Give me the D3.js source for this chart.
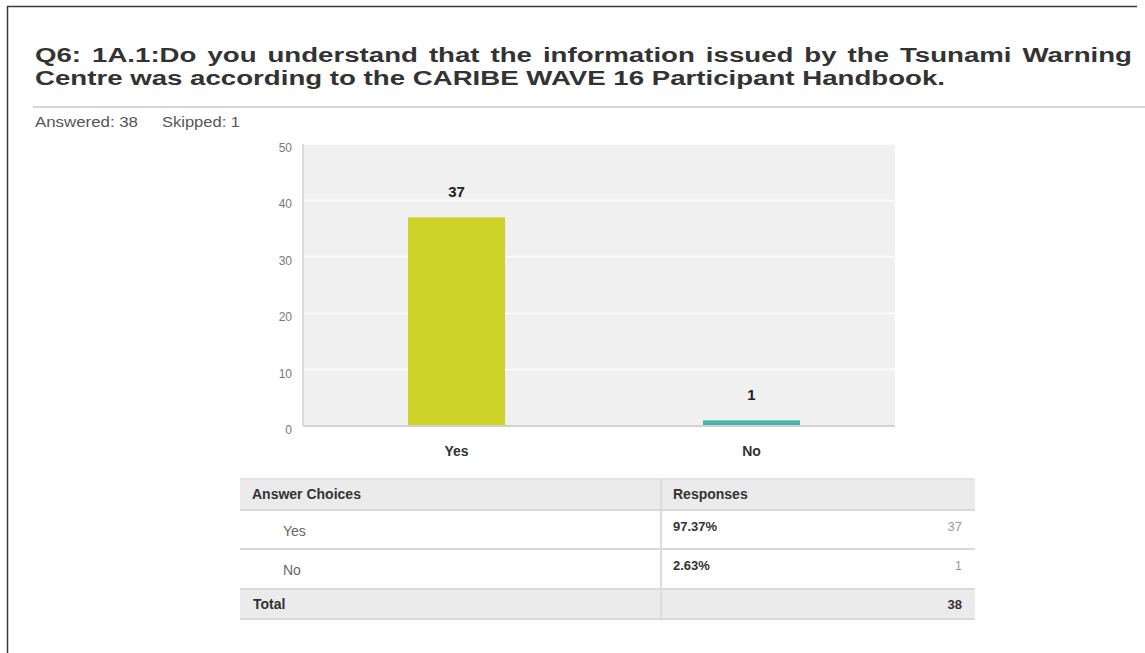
<!DOCTYPE html>
<html>
<head>
<meta charset="utf-8">
<script src="https://cdn.jsdelivr.net/npm/d3@7"></script>
<style>
  html, body { margin: 0; padding: 0; background: #fff; }
  svg { display: block; font-family: "Liberation Sans", Arial, sans-serif; }
</style>
</head>
<body>
<svg id="chart" width="1145" height="653"></svg>
<script>
// ---------- data ----------
const titleLines = [
  "Q6: 1A.1:Do you understand that the information issued by the Tsunami Warning",
  "Centre was according to the CARIBE WAVE 16 Participant Handbook."
];
const answeredCount = 38;
const skippedCount = 1;
const categories = ["Yes", "No"];
const counts = [37, 1];
const percents = ["97.37%", "2.63%"];
const yTicks = [0, 10, 20, 30, 40, 50];
const totalResponses = 38;
const tableHeaders = ["Answer Choices", "Responses"];
const barColors = ["#cdd229", "#45b6a8"];

// ---------- setup ----------
const svg = d3.select("#chart");
const W = 1145, H = 653;

// outer frame (left + top)
svg.append("path")
  .attr("d", `M7.5,${H} V6.5 H1137`)
  .attr("fill", "none").attr("stroke", "#3a3a3a").attr("stroke-width", 1.5);

// ---------- title ----------
const titleX = 35, titleRight = 1132, line2Right = 945;
const tg = svg.append("g").attr("fill", "#333").attr("font-weight", "bold").attr("font-size", 19.5);
// line 2 (stretch to measured width)
const l2 = tg.append("text").attr("x", titleX).attr("y", 84.5).text(titleLines[1]);
const nat2 = l2.node().getComputedTextLength();
const sx = (line2Right - titleX) / nat2;
l2.attr("textLength", line2Right - titleX).attr("lengthAdjust", "spacingAndGlyphs");
// line 1 justified word by word
const words = titleLines[0].split(" ");
const wordEls = words.map(w => tg.append("text").attr("y", 62).text(w));
const widths = wordEls.map(e => e.node().getComputedTextLength() * sx);
const gap = ((titleRight - titleX) - d3.sum(widths)) / (words.length - 1);
let cx = titleX;
wordEls.forEach((e, i) => {
  e.attr("x", cx).attr("textLength", widths[i]).attr("lengthAdjust", "spacingAndGlyphs");
  cx += widths[i] + gap;
});

// rule under title
svg.append("line").attr("x1", 33).attr("x2", W).attr("y1", 107).attr("y2", 107)
  .attr("stroke", "#d6d6d6").attr("stroke-width", 2);

// answered / skipped
const meta = svg.append("g").attr("fill", "#555").attr("font-size", 15);
meta.append("text").attr("x", 35).attr("y", 127).text(`Answered: ${answeredCount}`)
  .attr("textLength", 103).attr("lengthAdjust", "spacingAndGlyphs");
meta.append("text").attr("x", 162).attr("y", 127).text(`Skipped: ${skippedCount}`)
  .attr("textLength", 78).attr("lengthAdjust", "spacingAndGlyphs");

// ---------- chart ----------
const x = d3.scaleBand().domain(categories).range([303, 895])
  .paddingInner(0.671).paddingOuter(0.339).align(0.525);
const y = d3.scaleLinear().domain([0, 50]).range([426, 144]);

const plot = svg.append("g");
plot.append("rect")
  .attr("x", x.range()[0]).attr("y", y(50))
  .attr("width", x.range()[1] - x.range()[0]).attr("height", y(0) - y(50))
  .attr("fill", "#f0f0f0");

// gridlines
plot.selectAll("line.grid").data(yTicks.filter(d => d > 0)).join("line")
  .attr("class", "grid")
  .attr("x1", x.range()[0]).attr("x2", x.range()[1])
  .attr("y1", d => y(d)).attr("y2", d => y(d))
  .attr("stroke", "#fbfbfb").attr("stroke-width", 2);

// left and bottom lines
plot.append("line").attr("x1", x.range()[0]).attr("x2", x.range()[0])
  .attr("y1", y(50)).attr("y2", y(0)).attr("stroke", "#dcdcdc").attr("stroke-width", 2);
plot.append("line").attr("x1", x.range()[0]).attr("x2", x.range()[1])
  .attr("y1", y(0)).attr("y2", y(0)).attr("stroke", "#d2d2d2").attr("stroke-width", 2);

// y axis labels
const yAxis = svg.append("g").attr("transform", `translate(${x.range()[0]},0)`)
  .call(d3.axisLeft(y).tickValues(yTicks).tickSize(0).tickPadding(11));
yAxis.select(".domain").remove();
yAxis.selectAll("text").attr("fill", "#777").attr("font-size", 12)
  .attr("font-family", "Liberation Sans, Arial, sans-serif").attr("dy", "0.62em");

// bars
const data = categories.map((c, i) => ({ c, v: counts[i], color: barColors[i] }));
plot.selectAll("rect.bar").data(data).join("rect")
  .attr("class", "bar")
  .attr("x", d => x(d.c)).attr("width", x.bandwidth())
  .attr("y", d => y(d.v)).attr("height", d => y(0) - y(d.v) - 1)
  .attr("fill", d => d.color);

// value labels
plot.selectAll("text.val").data(data).join("text")
  .attr("class", "val")
  .attr("x", d => x(d.c) + x.bandwidth() / 2)
  .attr("y", d => y(d.v) - 20)
  .attr("text-anchor", "middle")
  .attr("font-size", 15).attr("font-weight", "bold").attr("fill", "#222")
  .text(d => d.v);

// x axis labels
const xAxis = svg.append("g").attr("transform", `translate(0,${y(0)})`)
  .call(d3.axisBottom(x).tickSize(0).tickPadding(20));
xAxis.select(".domain").remove();
xAxis.selectAll("text").attr("fill", "#333").attr("font-size", 14).attr("font-weight", "bold")
  .attr("font-family", "Liberation Sans, Arial, sans-serif").attr("dy", "0.71em");

// ---------- table ----------
const tL = 240, tM = 661, tR = 975;
const rowTops = [479, 510, 549, 589, 619];
const tbl = svg.append("g");
// header & total backgrounds
tbl.append("rect").attr("x", tL).attr("y", rowTops[0]).attr("width", tR - tL)
  .attr("height", rowTops[1] - rowTops[0]).attr("fill", "#ebebeb");
tbl.append("rect").attr("x", tL).attr("y", rowTops[3]).attr("width", tR - tL)
  .attr("height", rowTops[4] - rowTops[3]).attr("fill", "#ebebeb");
// horizontal separators
tbl.selectAll("line.sep").data(rowTops).join("line")
  .attr("class", "sep")
  .attr("x1", tL).attr("x2", tR).attr("y1", d => d).attr("y2", d => d)
  .attr("stroke", (d, i) => i === 0 ? "#e2e2e2" : "#d9d9d9").attr("stroke-width", 2);
// column divider
tbl.append("line").attr("x1", tM).attr("x2", tM).attr("y1", rowTops[0]).attr("y2", rowTops[4])
  .attr("stroke", "#dcdcdc").attr("stroke-width", 2);

// header text
tbl.append("text").attr("x", 252).attr("y", 499).attr("font-size", 14).attr("font-weight", "bold")
  .attr("fill", "#333").text(tableHeaders[0]);
tbl.append("text").attr("x", 673).attr("y", 499).attr("font-size", 14).attr("font-weight", "bold")
  .attr("fill", "#333").text(tableHeaders[1]);

// body rows
const rowBase = [536, 575];
const pctBase = [531, 570];
categories.forEach((c, i) => {
  tbl.append("text").attr("x", 283).attr("y", rowBase[i]).attr("font-size", 14)
    .attr("fill", "#666").text(c);
  tbl.append("text").attr("x", 673).attr("y", pctBase[i]).attr("font-size", 13)
    .attr("font-weight", "bold").attr("fill", "#333").text(percents[i]);
  tbl.append("text").attr("x", 962).attr("y", pctBase[i]).attr("font-size", 13)
    .attr("text-anchor", "end").attr("fill", "#999").text(counts[i]);
});

// total row
tbl.append("text").attr("x", 253).attr("y", 609).attr("font-size", 14).attr("font-weight", "bold")
  .attr("fill", "#333").text("Total");
tbl.append("text").attr("x", 962).attr("y", 609).attr("font-size", 13).attr("font-weight", "bold")
  .attr("text-anchor", "end").attr("fill", "#333").text(totalResponses);
</script>
</body>
</html>
